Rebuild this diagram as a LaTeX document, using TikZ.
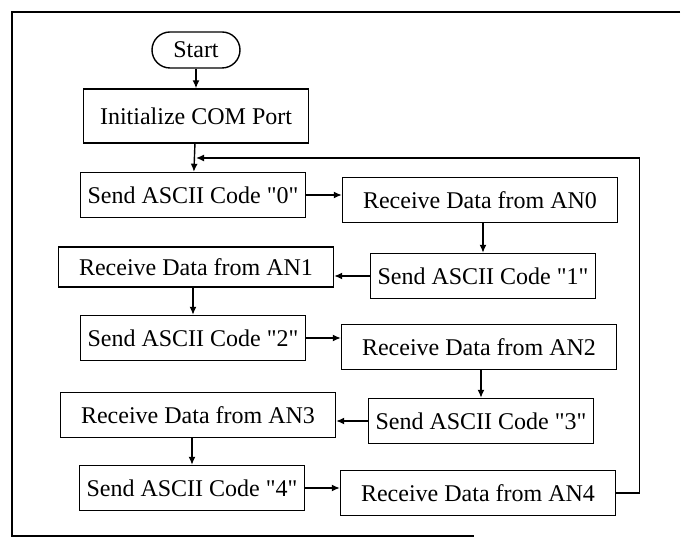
\documentclass[tikz,border=0pt]{standalone}
\usepackage{fontspec}
\setmainfont{Liberation Serif}[Ligatures=TeXOff]
\usetikzlibrary{arrows.meta}

\begin{document}
\begin{tikzpicture}[x=0.5pt,y=-0.5pt,
  box/.style={draw, line width=0.7pt, minimum height=22.5pt, inner sep=0pt,
    font=\fontsize{12}{14}\selectfont},
  sendbox/.style={box, minimum width=112.5pt},
  recvbox/.style={box, minimum width=137.5pt},
  flow/.style={line width=0.7pt, -{Latex[length=4pt,width=3.5pt]}}]

  % page size and frame
  \useasboundingbox (0,0) rectangle (682,544);
  \draw[line width=0.6pt] (680,12) -- (12,12) -- (12,536) -- (474,536);

  % terminal and init
  \node[box, rounded corners=9pt, minimum width=44pt, minimum height=18pt]
      (start) at (196,50) {Start};
  \node[box, minimum width=112.5pt, minimum height=27pt] (init) at (196,116) {Initialize COM Port};

  % left column
  \node[sendbox] (send0) at (193,195) {Send ASCII Code "0"};
  \node[recvbox, minimum height=20pt] (recv1) at (196,267) {Receive Data from AN1};
  \node[sendbox] (send2) at (193,338) {Send ASCII Code "2"};
  \node[recvbox] (recv3) at (198,415) {Receive Data from AN3};
  \node[sendbox] (send4) at (192,488) {Send ASCII Code "4"};

  % right column
  \node[recvbox] (recv0) at (480,200) {Receive Data from AN0};
  \node[sendbox] (send1) at (483,276) {Send ASCII Code "1"};
  \node[recvbox] (recv2) at (479,347) {Receive Data from AN2};
  \node[sendbox] (send3) at (481,421) {Send ASCII Code "3"};
  \node[recvbox] (recv4) at (478,493) {Receive Data from AN4};

  % loop return point
  \coordinate (back) at (196,158);

  % connectors
  \draw[flow] (start) -- (init);
  \draw[flow] (init) -- (send0);
  \draw[flow] (send0.east) -- (send0.east -| recv0.west);
  \draw[flow] (recv0.south -| send1.north) -- (send1.north);
  \draw[flow] (send1.west) -- (send1.west -| recv1.east);
  \draw[flow] (recv1.south -| send2.north) -- (send2.north);
  \draw[flow] (send2.east) -- (send2.east -| recv2.west);
  \draw[flow] (recv2.south -| send3.north) -- (send3.north);
  \draw[flow] (send3.west) -- (send3.west -| recv3.east);
  \draw[flow] (recv3.south -| send4.north) -- (send4.north);
  \draw[flow] (send4.east) -- (send4.east -| recv4.west);
  \draw[flow] (recv4.east) -- ++(23,0) |- (back);

\end{tikzpicture}
\end{document}
